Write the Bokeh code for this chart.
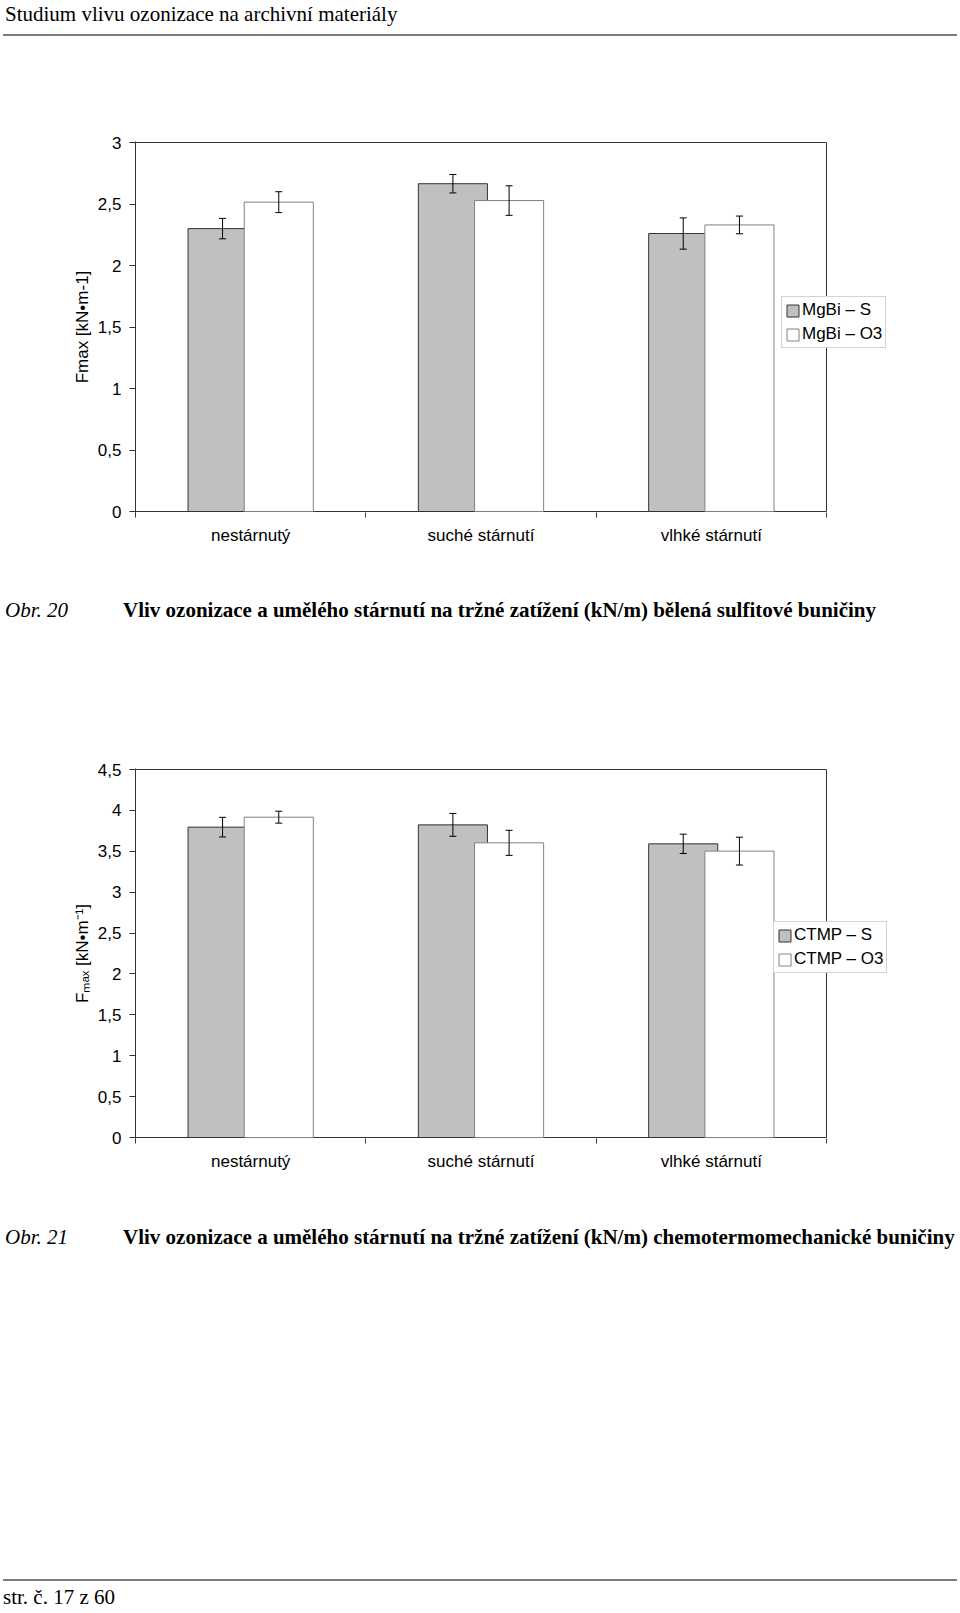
import numpy as np
from bokeh.plotting import figure
from bokeh.models import Range1d, FixedTicker, Legend, LegendItem, ColumnDataSource, Div
from bokeh.layouts import column
from bokeh.embed import file_html
from bokeh.resources import INLINE

# ---------------- data ----------------
HEADER = "Studium vlivu ozonizace na archivní materiály"
CATEGORIES = ["nestárnutý", "suché stárnutí", "vlhké stárnutí"]

MGBI_S = [2.30, 2.665, 2.26]
MGBI_S_ERR = [0.083, 0.075, 0.127]
MGBI_O3 = [2.515, 2.528, 2.33]
MGBI_O3_ERR = [0.085, 0.12, 0.072]

CTMP_S = [3.795, 3.823, 3.591]
CTMP_S_ERR = [0.12, 0.14, 0.118]
CTMP_O3 = [3.917, 3.603, 3.502]
CTMP_O3_ERR = [0.073, 0.153, 0.17]

Y1_TICKS = [0, 0.5, 1, 1.5, 2, 2.5, 3]
Y1_LABELS = ["0", "0,5", "1", "1,5", "2", "2,5", "3"]
Y2_TICKS = [0, 0.5, 1, 1.5, 2, 2.5, 3, 3.5, 4, 4.5]
Y2_LABELS = ["0", "0,5", "1", "1,5", "2", "2,5", "3", "3,5", "4", "4,5"]

LEGEND1 = ["MgBi – S", "MgBi – O3"]
LEGEND2 = ["CTMP – S", "CTMP – O3"]
YLABEL1 = "Fmax [kN•m-1]"
YLABEL2 = "Fₘₐₓ [kN•m⁻¹]"

CAPTION1_NUM = "Obr. 20"
CAPTION1 = "Vliv ozonizace a umělého stárnutí na tržné zatížení (kN/m) bělená sulfitové buničiny"
CAPTION2_NUM = "Obr. 21"
CAPTION2 = "Vliv ozonizace a umělého stárnutí na tržné zatížení (kN/m) chemotermomechanické buničiny"
FOOTER = "str. č. 17 z 60"

# ---------------- layout constants ----------------
W = 960
SANS = "Liberation Sans"
SERIF = "'Liberation Serif', 'Times New Roman', serif"
FRAME_LEFT = 135          # page x of the value axis
PLOT_RIGHT = 826          # page x of the right border of the plot area
FRAME_RIGHT = 895         # frame extended to the right so the legend can overlap the border
PLOT_W = PLOT_RIGHT - FRAME_LEFT
FRAME_W = FRAME_RIGHT - FRAME_LEFT
XMAX = len(CATEGORIES) * FRAME_W / PLOT_W


def serif_span(txt, left, baseline, style=""):
    top = baseline - 17.6
    return (f'<span style="position:absolute;left:{left}px;top:{top}px;'
            f'font-family:{SERIF};font-size:21px;line-height:21px;white-space:nowrap;'
            f'color:#000;{style}">{txt}</span>')


def rule(top):
    return (f'<div style="position:absolute;left:3px;top:{top}px;width:954px;height:2px;'
            f'background:#7c7c7c"></div>')


def text_block(h, parts):
    html = (f'<div style="position:relative;width:{W}px;height:{h}px;overflow:hidden;margin:0;padding:0">'
            + "".join(parts) + "</div>")
    return Div(text=html, width=W, height=h, margin=0)


def bar_chart(fig_h, y_top_px, y_bot_px, ymax, ticks, labels, s_vals, s_err, o_vals, o_err,
              leg_labels, leg_loc, ylabel):
    # value ymax sits at y_top_px, value 0 at y_bot_px (fig-relative); frame padded 1px each side
    ppu = (y_bot_px - y_top_px) / ymax
    d = 1.0 / ppu
    border_top = y_top_px - 1
    frame_h = (y_bot_px - y_top_px) + 2
    border_bottom = fig_h - border_top - frame_h
    p = figure(width=W, height=fig_h, x_range=Range1d(0, XMAX),
               y_range=Range1d(-d, ymax + d), output_backend="svg", toolbar_location=None,
               min_border_left=FRAME_LEFT, min_border_right=W - FRAME_RIGHT,
               min_border_top=border_top, min_border_bottom=border_bottom)
    p.xgrid.visible = False
    p.ygrid.visible = False
    p.outline_line_color = None
    p.background_fill_color = "white"
    p.border_fill_color = "white"

    n = len(CATEGORIES)
    # plot-area border (top, right, bottom)
    p.segment(x0=[0, n, 0], y0=[ymax, 0, 0], x1=[n, n, n], y1=[ymax, ymax, 0],
              line_color="#333333", line_width=1)

    idx = np.arange(n) + 0.5
    s_vals = np.array(s_vals); s_err = np.array(s_err)
    o_vals = np.array(o_vals); o_err = np.array(o_err)
    src = ColumnDataSource(dict(
        xs=idx - 0.122, xo=idx + 0.122, s=s_vals, o=o_vals,
        s_lo=s_vals - s_err, s_hi=s_vals + s_err,
        o_lo=o_vals - o_err, o_hi=o_vals + o_err))

    r1 = p.vbar(x="xs", top="s", bottom=0, width=0.30, source=src,
                fill_color="#c0c0c0", line_color="#333333", line_width=1)
    r2 = p.vbar(x="xo", top="o", bottom=0, width=0.30, source=src,
                fill_color="white", line_color="#808080", line_width=1)
    for xk, lo, hi in (("xs", "s_lo", "s_hi"), ("xo", "o_lo", "o_hi")):
        p.segment(x0=xk, y0=lo, x1=xk, y1=hi, source=src, line_color="black", line_width=1)
        p.scatter(x=xk, y=lo, source=src, marker="dash", size=7, line_color="black", line_width=1)
        p.scatter(x=xk, y=hi, source=src, marker="dash", size=7, line_color="black", line_width=1)

    xa = p.xaxis[0]
    xa.ticker = FixedTicker(ticks=list(idx), minor_ticks=list(range(n + 1)))
    xa.major_label_overrides = {float(t): c for t, c in zip(idx, CATEGORIES)}
    xa.major_tick_line_color = None
    xa.major_tick_out = 0
    xa.major_tick_in = 0
    xa.minor_tick_line_color = "#333333"
    xa.minor_tick_out = 5
    xa.minor_tick_in = 0
    xa.axis_line_color = None
    xa.major_label_text_font = SANS
    xa.major_label_text_font_size = "17px"
    xa.major_label_text_color = "black"
    xa.major_label_standoff = 8

    ya = p.yaxis[0]
    ya.ticker = FixedTicker(ticks=ticks, minor_ticks=[])
    ya.major_label_overrides = {t: l for t, l in zip(ticks, labels)}
    ya.major_tick_out = 6
    ya.major_tick_in = 0
    ya.major_tick_line_color = "#333333"
    ya.minor_tick_line_color = None
    ya.axis_line_color = "#333333"
    ya.major_label_text_font = SANS
    ya.major_label_text_font_size = "17px"
    ya.major_label_text_color = "black"
    ya.major_label_standoff = 8
    ya.axis_label = ylabel
    ya.axis_label_text_font = SANS
    ya.axis_label_text_font_size = "17px"
    ya.axis_label_text_font_style = "normal"
    ya.axis_label_text_color = "black"
    ya.axis_label_standoff = 3

    leg = Legend(items=[LegendItem(label=leg_labels[0], renderers=[r1]),
                        LegendItem(label=leg_labels[1], renderers=[r2])],
                 location=leg_loc, orientation="vertical",
                 label_text_font=SANS, label_text_font_size="17px", label_text_color="black",
                 glyph_width=15, glyph_height=15, label_height=20, label_standoff=2,
                 spacing=4, padding=3, margin=0,
                 border_line_color="#a8a8a8", border_line_width=1,
                 background_fill_color="white", background_fill_alpha=1)
    p.add_layout(leg, "center")
    return p


# ---------------- page ----------------
hdr = text_block(100, [serif_span(HEADER, 5, 22), rule(34)])

# chart 1: page 100..560, value 3 at page 142, value 0 at page 511
c1 = bar_chart(460, 42, 411, 3, Y1_TICKS, Y1_LABELS, MGBI_S, MGBI_S_ERR, MGBI_O3, MGBI_O3_ERR,
               LEGEND1, (781 - FRAME_LEFT, 512 - 348), YLABEL1)

cap1 = text_block(140, [serif_span(CAPTION1_NUM, 5, 58, "font-style:italic"),
                        serif_span(CAPTION1, 123, 58, "font-weight:bold")])

# chart 2: page 700..1190, value 4.5 at page 769, value 0 at page 1137
c2 = bar_chart(490, 69, 437, 4.5, Y2_TICKS, Y2_LABELS, CTMP_S, CTMP_S_ERR, CTMP_O3, CTMP_O3_ERR,
               LEGEND2, (773 - FRAME_LEFT, 1138 - 973), YLABEL2)

ftr = text_block(420, [serif_span(CAPTION2_NUM, 5, 55, "font-style:italic"),
                       serif_span(CAPTION2, 123, 55, "font-weight:bold"),
                       rule(389),
                       serif_span(FOOTER, 3, 415)])

layout = column(hdr, c1, cap1, c2, ftr, spacing=0)
open("out.html", "w").write(file_html(layout, INLINE))
